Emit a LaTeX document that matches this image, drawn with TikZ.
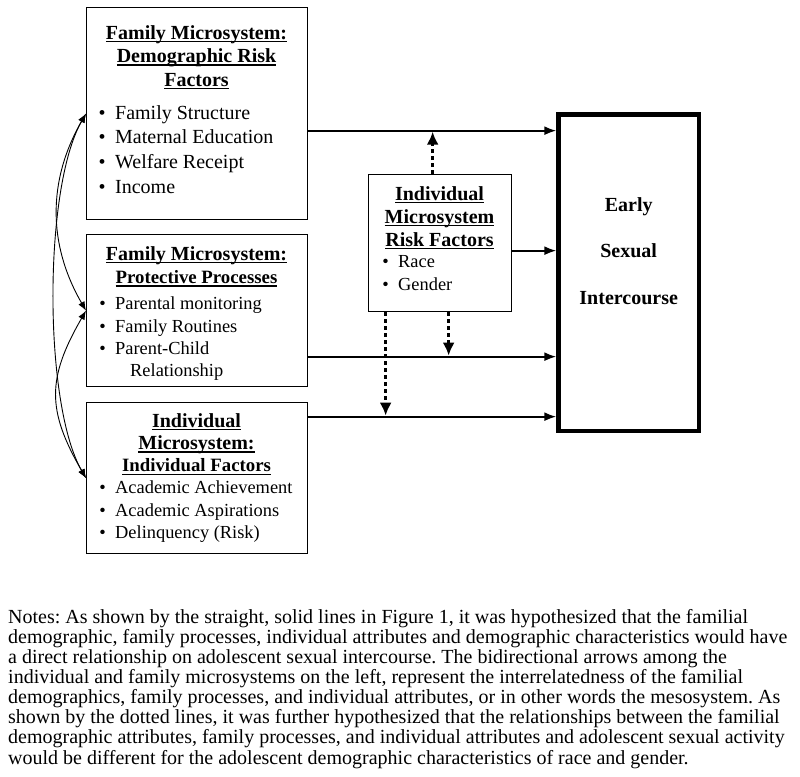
\documentclass[tikz,border=0pt]{standalone}
\usepackage{fontspec}
\setmainfont{Liberation Serif}
\usetikzlibrary{arrows.meta}

% underline cut through the descenders, as in the original
\newcommand{\hul}[1]{\setbox0\hbox{#1}\rlap{\rule[-3pt]{\wd0}{1.3pt}}\box0}
\newcommand{\bul}{\llap{\textbullet\hspace{9.5pt}}}

\begin{document}
\frenchspacing
\begin{tikzpicture}[x=1pt,y=-1pt,
	box/.style={draw, line width=1.3pt, anchor=north west, inner sep=0pt},
	head/.style={anchor=base, font=\fontsize{20}{24}\selectfont\bfseries},
	smallhead/.style={anchor=base, font=\fontsize{18.8}{22}\selectfont\bfseries},
	item/.style={anchor=base west, inner sep=0pt, font=\fontsize{20}{24}\selectfont},
	smallitem/.style={item, font=\fontsize{18.4}{22}\selectfont},
	note/.style={anchor=base west, inner sep=0pt, font=\fontsize{20}{20.1}\selectfont},
	link/.style={line width=1.8pt, -{Latex[length=12pt,width=9pt]}},
	dots/.style={line width=3.6pt, dash pattern=on 3.6pt off 3.4pt, shorten >=1pt, -{Latex[length=13pt,width=12pt]}},
	bi/.style={line width=0.9pt, {Latex[length=9pt,width=7pt]}-{Latex[length=9pt,width=7pt]}}]

	\useasboundingbox (0,0) rectangle (800,776);

	% Boxes
	\node[box, minimum width=221pt, minimum height=212pt] (fdem) at (86,7) {};
	\node[box, minimum width=221pt, minimum height=152pt] (fpro) at (86,234) {};
	\node[box, minimum width=221pt, minimum height=151pt] (indf) at (86,402) {};
	\node[box, minimum width=143pt, minimum height=137pt] (risk) at (368,174) {};
	\node[box, line width=4.5pt, minimum width=140.5pt, minimum height=316.6pt] (early) at (556.3,112.2) {};

	% Family demographic risk factors
	\foreach \txt [count=\i] in {Family Microsystem:, Demographic Risk, Factors}
		\node[head] (fdem-h\i) at (196.5, 15.9+23.4*\i) {\hul{\txt}};
	\foreach \txt [count=\i] in {Family Structure, Maternal Education, Welfare Receipt, Income}
		\node[item] (fdem-i\i) at (115, 94.7+24.6*\i) {\bul\txt};

	% Family protective processes
	\node[head] (fpro-h1) at (196.5, 260) {\hul{Family Microsystem:}};
	\node[smallhead] (fpro-h2) at (196.5, 283.5) {\hul{Protective Processes}};
	\foreach \txt [count=\i] in {Parental monitoring, Family Routines, Parent-Child}
		\node[smallitem] (fpro-i\i) at (115, 287.5+22.3*\i) {\bul\txt};
	\node[smallitem] (fpro-i4) at (130, 376.7) {Relationship};

	% Individual factors
	\foreach \txt [count=\i] in {Individual, Microsystem:}
		\node[head] (indf-h\i) at (196.5, 405+22.3*\i) {\hul{\txt}};
	\node[smallhead] (indf-h3) at (196.5, 471.9) {\hul{Individual Factors}};
	\foreach \txt [count=\i] in {Academic Achievement, Academic Aspirations, Delinquency (Risk)}
		\node[smallitem] (indf-i\i) at (115, 471+22.5*\i) {\bul\txt};

	% Individual risk factors
	\foreach \txt [count=\i] in {Individual, Microsystem, Risk Factors}
		\node[head] (risk-h\i) at (439.5, 177+23*\i) {\hul{\txt}};
	\foreach \txt [count=\i] in {Race, Gender}
		\node[smallitem] (risk-i\i) at (398, 244.5+23*\i) {\bul\txt};

	% Outcome
	\foreach \txt [count=\i] in {Early, Sexual, Intercourse}
		\node[head] (early-h\i) at (628.7, 164.5+46.5*\i) {\txt};

	% Direct paths
	\coordinate (a1) at ([yshift=-17pt]fdem.east);
	\coordinate (a2) at ([yshift=-46pt]fpro.east);
	\coordinate (a3) at ([yshift=61.5pt]indf.east);
	\coordinate (a4) at ([yshift=-7.5pt]risk.east);
	\draw[link] (a1) -- (a1 -| early.west);
	\draw[link] (a2) -- (a2 -| early.west);
	\draw[link] (a3) -- (a3 -| early.west);
	\draw[link] (a4) -- (a4 -| early.west);

	% Moderation (dotted)
	\coordinate (u1) at ([xshift=-7.5pt]risk.north);
	\coordinate (d1) at ([xshift=8.5pt]risk.south);
	\coordinate (d2) at ([xshift=-54.5pt]risk.south);
	\draw[dots] (u1) -- (u1 |- a1);
	\draw[dots] (d1) -- (d1 |- a2);
	\draw[dots] (d2) -- (d2 |- a3);

	% Mesosystem
	\draw[bi] (fdem.west) to[out=240,in=120] (fpro.west);
	\draw[bi] (fdem.west) to[out=240,in=120,looseness=0.6] (indf.west);
	\draw[bi] (fpro.west) to[out=240,in=120,looseness=1.2] (indf.west);

	% Notes
	\foreach \txt [count=\i] in {
		{Notes: As shown by the straight, solid lines in Figure 1, it was hypothesized that the familial},
		{demographic, family processes, individual attributes and demographic characteristics would have},
		{a direct relationship on adolescent sexual intercourse. The bidirectional arrows among the},
		{individual and family microsystems on the left, represent the interrelatedness of the familial},
		{demographics, family processes, and individual attributes, or in other words the mesosystem. As},
		{shown by the dotted lines, it was further hypothesized that the relationships between the familial},
		{demographic attributes, family processes, and individual attributes and adolescent sexual activity},
		{would be different for the adolescent demographic characteristics of race and gender.}}
		\node[note] (note\i) at (8, 603.2+20.1*\i) {\txt};

\end{tikzpicture}
\end{document}
